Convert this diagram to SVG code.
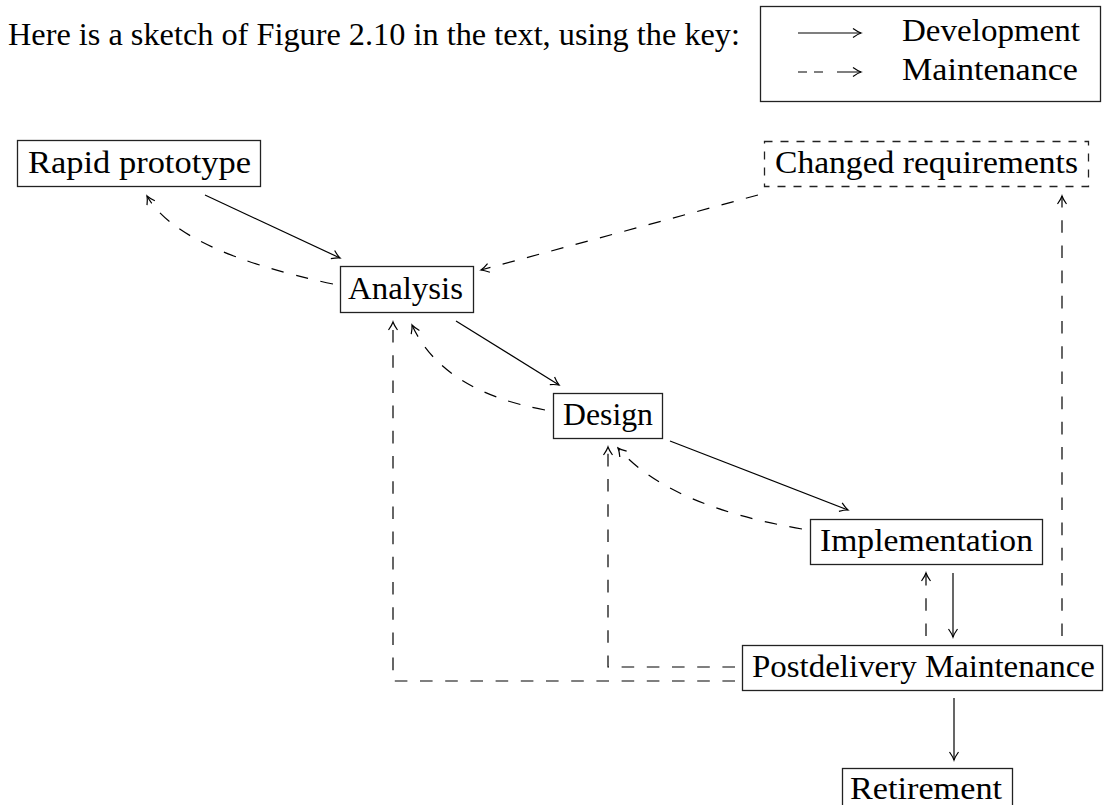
<svg xmlns="http://www.w3.org/2000/svg" width="1104" height="805" viewBox="0 0 1104 805">
<style>
text{font-family:"Liberation Serif","Times New Roman",serif;font-size:31px;fill:#000}
.box{fill:#fff;stroke:#222;stroke-width:1.3}
.dbox{fill:#fff;stroke:#222;stroke-width:1.3;stroke-dasharray:8 8}
.sol{fill:none;stroke:#000;stroke-width:1.2}
.dsh{fill:none;stroke:#000;stroke-width:1.2;stroke-dasharray:12.6 12.6}
</style>
<defs>
<marker id="ah" viewBox="-10 -6 12 12" refX="0" refY="0" markerWidth="12" markerHeight="12" orient="auto" markerUnits="userSpaceOnUse">
<path d="M-8,-4.5 Q-3,-1 0,0 Q-3,1 -8,4.5" fill="none" stroke="#000" stroke-width="1.2" stroke-dasharray="none"/>
</marker>
</defs>
<rect width="1104" height="805" fill="#fff"/>
<g id="header">
<text x="8" y="45" textLength="732" lengthAdjust="spacingAndGlyphs">Here is a sketch of Figure 2.10 in the text, using the key:</text>
</g>
<g id="key">
<rect x="760.5" y="6.5" width="340" height="95" class="box"/>
<line x1="798" y1="33" x2="861" y2="33" class="sol" marker-end="url(#ah)"/>
<line x1="798" y1="72" x2="861" y2="72" class="sol" stroke-dasharray="9 7 9 14 25" marker-end="url(#ah)"/>
<text x="902" y="41" textLength="178" lengthAdjust="spacingAndGlyphs">Development</text>
<text x="902" y="80" textLength="176" lengthAdjust="spacingAndGlyphs">Maintenance</text>
</g>
<g id="rapid-prototype">
<rect x="17.5" y="140.5" width="243" height="46" class="box"/>
<text x="28" y="173" textLength="223" lengthAdjust="spacingAndGlyphs">Rapid prototype</text>
</g>
<g id="changed-requirements">
<rect x="764.5" y="141.5" width="324" height="45" class="dbox"/>
<text x="775" y="173" textLength="303" lengthAdjust="spacingAndGlyphs">Changed requirements</text>
</g>
<g id="analysis">
<rect x="340.5" y="266.5" width="133" height="46" class="box"/>
<text x="348" y="299" textLength="115" lengthAdjust="spacingAndGlyphs">Analysis</text>
</g>
<g id="design">
<rect x="553.5" y="393.5" width="109" height="45" class="box"/>
<text x="563" y="425" textLength="90" lengthAdjust="spacingAndGlyphs">Design</text>
</g>
<g id="implementation">
<rect x="810.5" y="519.5" width="232" height="45" class="box"/>
<text x="820" y="551" textLength="213" lengthAdjust="spacingAndGlyphs">Implementation</text>
</g>
<g id="postdelivery-maintenance">
<rect x="742.5" y="645.5" width="360" height="45" class="box"/>
<text x="752" y="677" textLength="343" lengthAdjust="spacingAndGlyphs">Postdelivery Maintenance</text>
</g>
<g id="retirement">
<rect x="842.5" y="768.5" width="170" height="46" class="box"/>
<text x="850" y="799" textLength="152" lengthAdjust="spacingAndGlyphs">Retirement</text>
</g>
<g id="connectors">
<line x1="205" y1="195" x2="340" y2="258" class="sol" marker-end="url(#ah)"/>
<path d="M333,284 Q178,251 147,196" class="dsh" marker-end="url(#ah)"/>
<line x1="758" y1="195" x2="481" y2="270" class="dsh" marker-end="url(#ah)"/>
<line x1="456" y1="321" x2="559" y2="385" class="sol" marker-end="url(#ah)"/>
<path d="M545,410 Q442,391 412,325" class="dsh" marker-end="url(#ah)"/>
<line x1="670" y1="441" x2="848" y2="510" class="sol" marker-end="url(#ah)"/>
<path d="M802,529 Q668,506 618,448" class="dsh" marker-end="url(#ah)"/>
<line x1="953" y1="573" x2="953" y2="637" class="sol" marker-end="url(#ah)"/>
<line x1="926" y1="636" x2="926" y2="573" class="dsh" marker-end="url(#ah)"/>
<line x1="1062" y1="636" x2="1062" y2="196" class="dsh" marker-end="url(#ah)"/>
<path d="M735,667 L608,667 L608,447" class="dsh" marker-end="url(#ah)"/>
<path d="M735,681 L393,681 L393,322" class="dsh" marker-end="url(#ah)"/>
<line x1="954" y1="698" x2="954" y2="760" class="sol" marker-end="url(#ah)"/>
</g>
</svg>
